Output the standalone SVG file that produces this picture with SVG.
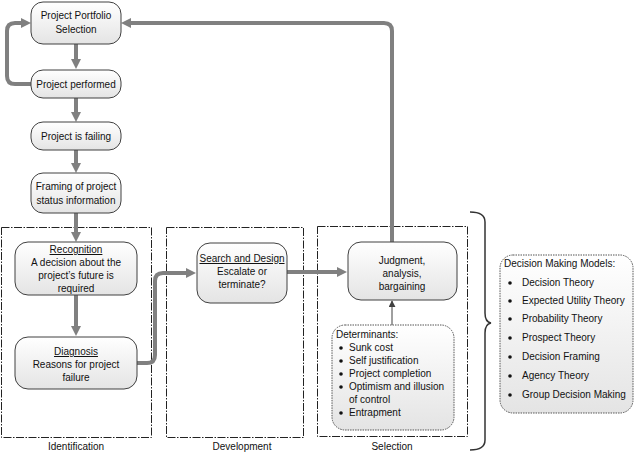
<svg xmlns="http://www.w3.org/2000/svg" width="635" height="454" viewBox="0 0 635 454">
<defs>
<linearGradient id="g" x1="0" y1="0" x2="0" y2="1">
<stop offset="0" stop-color="#ffffff"/>
<stop offset="1" stop-color="#e4e4e4"/>
</linearGradient>
<marker id="ah" viewBox="0 0 10 10" refX="4" refY="5" markerWidth="10" markerHeight="10" markerUnits="userSpaceOnUse" orient="auto">
<path d="M0,0 L10,5 L0,10 z" fill="#808080"/>
</marker>
<marker id="ahs" viewBox="0 0 8 8" refX="7" refY="4" markerWidth="7" markerHeight="7" markerUnits="userSpaceOnUse" orient="auto">
<path d="M0,0 L8,4 L0,8 z" fill="#404040"/>
</marker>
</defs>
<style>
text{font-family:"Liberation Sans",Arial,sans-serif;font-size:10px;fill:#111}
.c{text-anchor:middle}
.node{fill:url(#g);stroke:#404040;stroke-width:1}
.dot{fill:url(#g);stroke:#555;stroke-width:1;stroke-dasharray:1.5,1}
.phase{fill:none;stroke:#222;stroke-width:1;stroke-dasharray:8,1.5,1.5,1.5}
.flow{fill:none;stroke:#808080;stroke-width:4;marker-end:url(#ah)}
.u{text-decoration:underline}
</style>
<rect width="635" height="454" fill="#ffffff"/>

<g id="phase-identification">
<rect class="phase" x="1.5" y="227.5" width="150" height="210"/>
<text class="c" x="76" y="450">Identification</text>
</g>
<g id="phase-development">
<rect class="phase" x="166.5" y="227.5" width="137" height="210"/>
<text class="c" x="242" y="450">Development</text>
</g>
<g id="phase-selection">
<rect class="phase" x="317.5" y="226.5" width="150" height="210"/>
<text class="c" x="392" y="450">Selection</text>
</g>

<g id="connectors">
<path class="flow" d="M76,44 V63"/>
<path class="flow" d="M76,98 V116"/>
<path class="flow" d="M76,150 V167"/>
<path class="flow" d="M76,213 V236"/>
<path class="flow" d="M76,295 V330"/>
<path class="flow" d="M31,84 H15 Q7,84 7,76 V31 Q7,23 15,23 H25"/>
<path class="flow" d="M137,363 H147 Q155,363 155,355 V281 Q155,273 163,273 H190"/>
<path class="flow" d="M287,272 H341"/>
<path class="flow" d="M392,242 V31 Q392,23 384,23 H127"/>
<path d="M392,325 V301" fill="none" stroke="#404040" stroke-width="1" marker-end="url(#ahs)"/>
</g>

<g id="n-portfolio">
<rect class="node" x="31" y="2" width="90" height="42" rx="12"/>
<text class="c" x="76" y="19">Project Portfolio</text>
<text class="c" x="76" y="33">Selection</text>
</g>
<g id="n-performed">
<rect class="node" x="31" y="70" width="90" height="28" rx="12"/>
<text class="c" x="76" y="88">Project performed</text>
</g>
<g id="n-failing">
<rect class="node" x="31" y="122" width="90" height="28" rx="12"/>
<text class="c" x="76" y="140">Project is failing</text>
</g>
<g id="n-framing">
<rect class="node" x="31" y="173" width="90" height="40" rx="12"/>
<text class="c" x="76" y="190">Framing of project</text>
<text class="c" x="76" y="204">status information</text>
</g>
<g id="n-recognition">
<rect class="node" x="15" y="242" width="122" height="53" rx="13"/>
<text class="c u" x="76" y="253">Recognition</text>
<text class="c" x="76" y="266">A decision about the</text>
<text class="c" x="76" y="279">project’s future is</text>
<text class="c" x="76" y="292">required</text>
</g>
<g id="n-diagnosis">
<rect class="node" x="15" y="337" width="122" height="52" rx="13"/>
<text class="c u" x="76" y="355">Diagnosis</text>
<text class="c" x="76" y="368">Reasons for project</text>
<text class="c" x="76" y="381">failure</text>
</g>
<g id="n-search">
<rect class="node" x="197" y="243" width="90" height="60" rx="13"/>
<text class="c u" x="242" y="262">Search and Design</text>
<text class="c" x="242" y="275">Escalate or</text>
<text class="c" x="242" y="288">terminate?</text>
</g>
<g id="n-judgment">
<rect class="node" x="348" y="242" width="109" height="58" rx="13"/>
<text class="c" x="402" y="264">Judgment,</text>
<text class="c" x="402" y="277">analysis,</text>
<text class="c" x="402" y="290">bargaining</text>
</g>
<g id="n-determinants">
<rect class="dot" x="332" y="325" width="122" height="105" rx="13"/>
<text x="336" y="338">Determinants:</text>
<g fill="#111">
<circle cx="341" cy="348" r="1.8"/>
<circle cx="341" cy="361" r="1.8"/>
<circle cx="341" cy="374" r="1.8"/>
<circle cx="341" cy="387" r="1.8"/>
<circle cx="341" cy="413" r="1.8"/>
</g>
<text x="349" y="351">Sunk cost</text>
<text x="349" y="364">Self justification</text>
<text x="349" y="377">Project completion</text>
<text x="349" y="390">Optimism and illusion</text>
<text x="349" y="403">of control</text>
<text x="349" y="416">Entrapment</text>
</g>

<g id="brace">
<path d="M470,212 Q485,212 485,222 V313 Q485,322 491,323 Q485,324 485,333 V440 Q485,450 470,450" fill="none" stroke="#333" stroke-width="1.5"/>
</g>

<g id="n-models">
<rect class="dot" x="500" y="255" width="133" height="158" rx="13"/>
<text x="504" y="267">Decision Making Models:</text>
<g fill="#111">
<circle cx="510" cy="283" r="1.8"/>
<circle cx="510" cy="301" r="1.8"/>
<circle cx="510" cy="319" r="1.8"/>
<circle cx="510" cy="338" r="1.8"/>
<circle cx="510" cy="357" r="1.8"/>
<circle cx="510" cy="376" r="1.8"/>
<circle cx="510" cy="395" r="1.8"/>
</g>
<text x="522" y="286">Decision Theory</text>
<text x="522" y="304">Expected Utility Theory</text>
<text x="522" y="322">Probability Theory</text>
<text x="522" y="341">Prospect Theory</text>
<text x="522" y="360">Decision Framing</text>
<text x="522" y="379">Agency Theory</text>
<text x="522" y="398">Group Decision Making</text>
</g>
</svg>
